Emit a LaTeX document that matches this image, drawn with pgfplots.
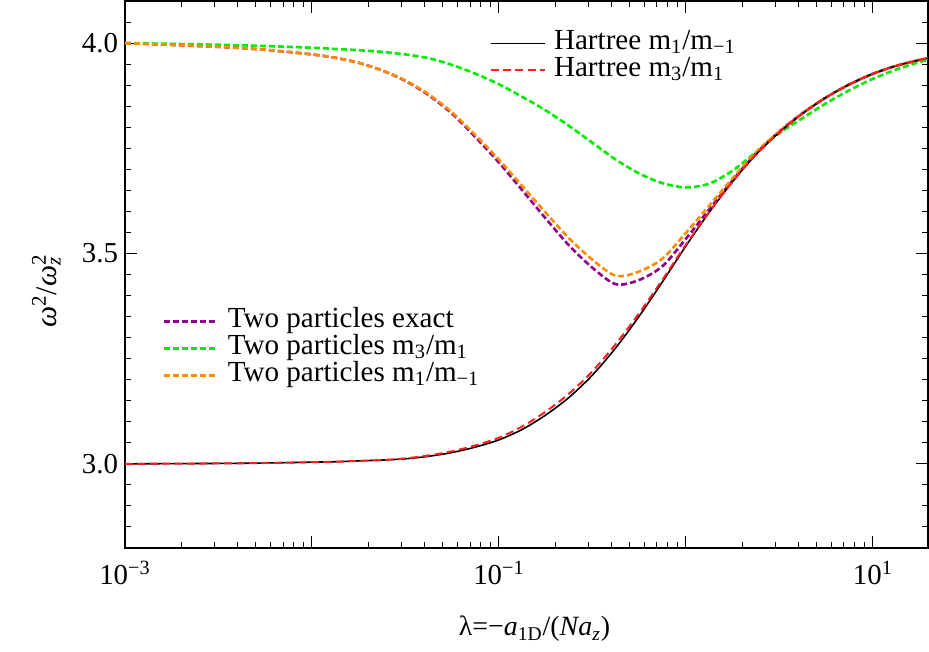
\documentclass[border=0pt]{standalone}
\usepackage{fontspec}
\setmainfont{Liberation Serif}
\usepackage{pgfplots}
\pgfplotsset{compat=1.18}
\usepackage{pgfplotstable}
\definecolor{cpurple}{RGB}{140,0,140}
\definecolor{cgreen}{RGB}{0,235,0}
\definecolor{corange}{RGB}{255,140,0}
\definecolor{cred}{RGB}{255,30,30}

\pgfplotstableread{
x B R P O G
0.001     3.000 3.000 4.000 4.000 4.000
0.0031623 3.001 3.001 3.991 3.991 3.996
0.0056234 3.002 3.002 3.984 3.984 3.993
0.01      3.004 3.004 3.973 3.973 3.989
0.013335  3.005 3.005 3.965 3.965 3.986
0.017783  3.007 3.007 3.953 3.953 3.983
0.023714  3.009 3.009 3.935 3.935 3.979
0.031623  3.012 3.013 3.910 3.911 3.973
0.042170  3.018 3.020 3.876 3.878 3.964
0.056234  3.027 3.030 3.832 3.835 3.948
0.074989  3.040 3.044 3.776 3.781 3.927
0.1       3.057 3.062 3.716 3.723 3.902
0.13335   3.082 3.089 3.650 3.660 3.872
0.17783   3.116 3.124 3.583 3.597 3.840
0.23714   3.158 3.167 3.519 3.536 3.803
0.31623   3.211 3.220 3.466 3.485 3.763
0.42170   3.276 3.285 3.427 3.447 3.723
0.56234   3.351 3.358 3.437 3.457 3.690
0.74989   3.433 3.438 3.470 3.488 3.667
1         3.518 3.521 3.535 3.549 3.657
1.3335    3.598 3.599 3.605 3.614 3.666
1.7783    3.671 3.671 3.674 3.679 3.697
2.3714    3.735 3.735 3.738 3.741 3.741
3.1623    3.788 3.788 3.790 3.790 3.786
4.2170    3.833 3.833 3.834 3.834 3.822
5.6234    3.871 3.871 3.871 3.871 3.857
7.4989    3.902 3.902 3.902 3.902 3.888
10        3.927 3.927 3.927 3.927 3.915
13.335    3.946 3.946 3.946 3.946 3.937
17.783    3.960 3.960 3.960 3.960 3.955
19.953    3.964 3.964 3.964 3.964 3.961
}\data

\pgfplotsset{
  mylegend/.style={
    draw=none, fill=none, inner sep=0pt, row sep=0pt,
    font=\fontsize{14.6}{14.6}\selectfont,
    nodes={text height=9.5bp, text depth=3.5bp, inner sep=0.25bp},
  },
}

\begin{document}
\begin{tikzpicture}
\begin{axis}[
  name=main,
  scale only axis, width=401.5bp, height=273.5bp,
  xmode=log, xmin=1e-3, xmax=19.7, ymin=2.8, ymax=4.1,
  xtick={1e-3,1e-2,1e-1,1,10},
  xticklabels={10\textsuperscript{−3},,10\textsuperscript{−1},,10\textsuperscript{1}},
  ytick={3,3.5,4}, yticklabels={3.0,3.5,4.0},
  minor ytick={2.85,2.9,2.95,3.05,3.1,3.15,3.2,3.25,3.3,3.35,3.4,3.45,3.55,3.6,3.65,3.7,3.75,3.8,3.85,3.9,3.95,4.05},
  major tick length=6bp, minor tick length=3bp,
  every tick/.style={line width=0.5bp, black},
  axis line style={line width=0.8bp},
  tick label style={font=\fontsize{14.5}{16}\selectfont},
  xticklabel style={yshift=-3bp},
  xlabel={λ=−\textit{a}\textsubscript{1D}/(\textit{Na}\textsubscript{\textit{z}})},
  ylabel={\textit{ω}\textsuperscript{2}/\textit{ω}\rlap{\textsubscript{\textit{z}}}\textsuperscript{2}},
  xlabel style={at={(axis description cs:0.51,0)}, anchor=center, yshift=-40.5bp, font=\fontsize{14}{16}\selectfont},
  ylabel style={at={(axis description cs:-0.098,0.47)}, anchor=center, font=\fontsize{15}{17}\selectfont},
  legend style={mylegend, at={(0.4535,0.948)}, anchor=north west},
  legend cell align=left,
  legend image code/.code={\draw[#1] (0bp,0bp) -- (27bp,0bp); \path (31bp,0bp);},
]
\addplot[cpurple, line width=1.3bp, dash pattern=on 3bp off 1.5bp, smooth, forget plot] table[x=x,y=P]{\data};
\addplot[cgreen, line width=1.3bp, dash pattern=on 3bp off 1.5bp, smooth, forget plot] table[x=x,y=G]{\data};
\addplot[corange, line width=1.3bp, dash pattern=on 3bp off 1.5bp, smooth, forget plot] table[x=x,y=O]{\data};
\addplot[black, line width=0.8bp, smooth] table[x=x,y=B]{\data};
\addlegendentry{Hartree m\textsubscript{1}/m\textsubscript{−1}}
\addplot[cred, line width=1bp, dash pattern=on 4bp off 2.2bp, smooth] table[x=x,y=R]{\data};
\addlegendentry{Hartree m\textsubscript{3}/m\textsubscript{1}}
\end{axis}
\begin{axis}[
  scale only axis, width=401.5bp, height=273.5bp,
  hide axis, xmin=0, xmax=1, ymin=0, ymax=1,
  legend style={mylegend, at={(0.0465,0.44)}, anchor=north west},
  legend cell align=left,
  legend image code/.code={\draw[#1] (0bp,0bp) -- (27bp,0bp); \path (31bp,0bp);},
]
\addlegendimage{cpurple, line width=1.3bp, dash pattern=on 3bp off 1.5bp}
\addlegendentry{Two particles exact}
\addlegendimage{cgreen, line width=1.3bp, dash pattern=on 3bp off 1.5bp}
\addlegendentry{Two particles m\textsubscript{3}/m\textsubscript{1}}
\addlegendimage{corange, line width=1.3bp, dash pattern=on 3bp off 1.5bp}
\addlegendentry{Two particles m\textsubscript{1}/m\textsubscript{−1}}
\end{axis}
\pgfresetboundingbox
\path ([shift={(-62.5bp,-52bp)}]main.south west) rectangle ([shift={(0.5bp,0.5bp)}]main.north east);
\end{tikzpicture}
\end{document}
